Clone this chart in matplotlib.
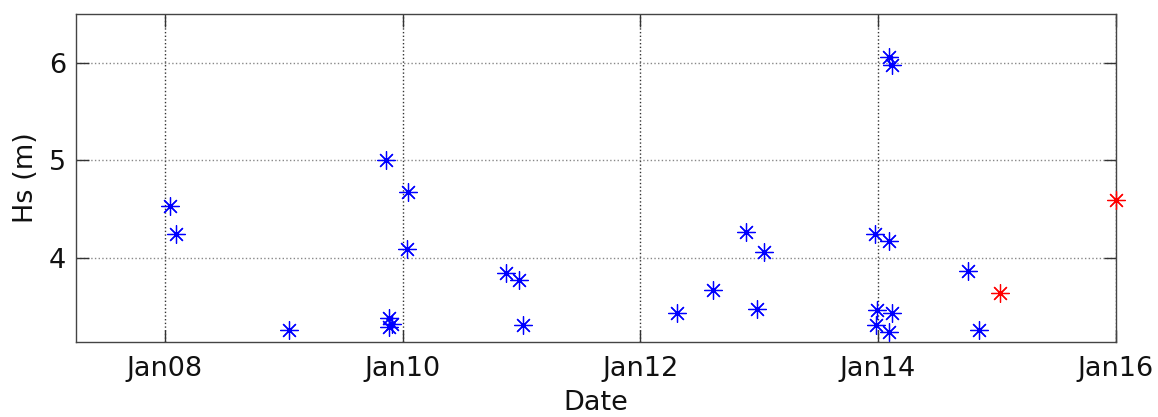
import matplotlib
import matplotlib.pyplot as plt
import matplotlib.dates as mdates
import pandas as pd

matplotlib.use("Agg")

# buoy observations (blue) and forecast points (red)
obs_times = [
	"2014-01-08 01:00", "2014-01-08 02:18", "2014-01-09 01:00", "2014-01-09 20:42",
	"2014-01-10 01:05", "2014-01-10 00:53", "2014-01-09 21:18", "2014-01-09 21:50",
	"2014-01-09 21:18", "2014-01-10 20:54", "2014-01-10 23:31", "2014-01-11 00:24",
	"2014-01-12 07:20", "2014-01-12 14:43", "2014-01-12 21:19", "2014-01-13 01:00",
	"2014-01-12 23:36", "2014-01-14 02:12", "2014-01-14 02:54", "2014-01-13 23:20",
	"2014-01-14 02:10", "2014-01-14 18:09", "2014-01-13 23:46", "2014-01-14 02:54",
	"2014-01-13 23:41", "2014-01-14 02:12", "2014-01-14 20:23",
]
obs_hs = [
	4.53, 4.24, 3.26, 5.00,
	4.68, 4.09, 3.38, 3.32,
	3.29, 3.84, 3.77, 3.31,
	3.43, 3.67, 4.26, 4.055,
	3.48, 6.06, 5.98, 4.24,
	4.17, 3.87, 3.46, 3.43,
	3.31, 3.24, 3.26,
]
fc_times = ["2014-01-15 00:40", "2014-01-16 00:00"]
fc_hs = [3.64, 4.59]

tick_dates = ["2014-01-08", "2014-01-10", "2014-01-12", "2014-01-14", "2014-01-16"]
y_ticks = [4, 5, 6]

W, H = 1158, 417
fig = plt.figure(figsize=(W / 100, H / 100), dpi=100)
ax = fig.add_axes([75.7 / W, 1 - 341.7 / H, (1115.7 - 75.7) / W, (341.7 - 14) / H])

star = (8, 2, 0)
ax.plot(pd.to_datetime(obs_times), obs_hs, linestyle="none", marker=star,
	markersize=13, markeredgewidth=0.9, color="#0000ff", clip_on=False, zorder=3)
ax.plot(pd.to_datetime(fc_times), fc_hs, linestyle="none", marker=star,
	markersize=13, markeredgewidth=0.9, color="#ff0000", clip_on=False, zorder=3)

ax.set_xlim(pd.Timestamp("2014-01-07 06:00"), pd.Timestamp("2014-01-16 00:00"))
ax.set_ylim(3.14, 6.5)
ax.set_xticks(pd.to_datetime(tick_dates))
ax.xaxis.set_major_formatter(mdates.DateFormatter("%b%d"))
ax.set_yticks(y_ticks)

ax.xaxis.grid(True, linestyle=":", color="#333333", linewidth=1.0)
ax.yaxis.grid(True, linestyle=":", color="#888888", linewidth=1.0)
ax.set_axisbelow(True)

ax.tick_params(direction="in", length=9, width=1, colors="#333333",
	top=True, right=True, labelsize=19.5, labelcolor="#111111")
ax.tick_params(axis="x", pad=10)
ax.tick_params(axis="y", pad=7)
for spine in ax.spines.values():
	spine.set_color("#444444")
	spine.set_linewidth(1.0)

ax.set_xlabel("Date", fontsize=19.5, color="#111111", labelpad=6)
ax.set_ylabel("Hs (m)", fontsize=19.5, color="#111111", labelpad=7)

fig.savefig("out.png", dpi=100)
plt.close(fig)
